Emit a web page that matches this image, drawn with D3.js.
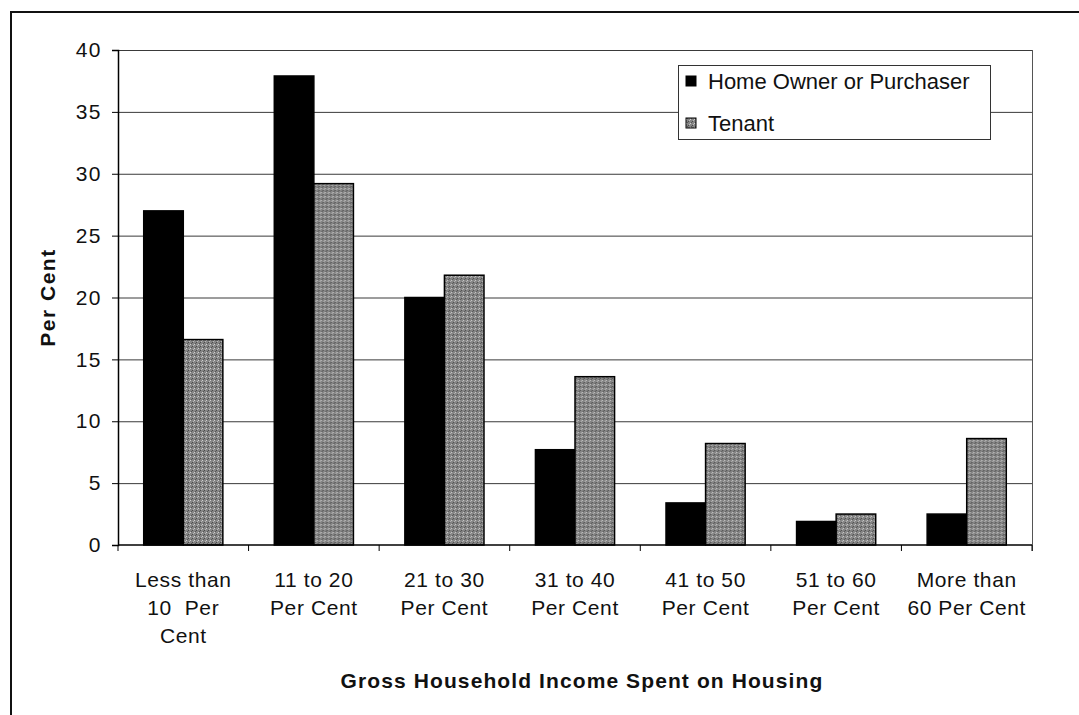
<!DOCTYPE html>
<html>
<head>
<meta charset="utf-8">
<script src="https://cdn.jsdelivr.net/npm/d3@7"></script>
<style>
  html, body { margin: 0; padding: 0; background: #fff; }
  svg { display: block; font-family: Arial, "Liberation Sans", sans-serif; }
</style>
</head>
<body>
<svg id="chart" width="1079" height="715"></svg>
<script>
const categories = [
  ["Less than", "10  Per", "Cent"],
  ["11 to 20", "Per Cent"],
  ["21 to 30", "Per Cent"],
  ["31 to 40", "Per Cent"],
  ["41 to 50", "Per Cent"],
  ["51 to 60", "Per Cent"],
  ["More than", "60 Per Cent"]
];
const seriesNames = ["Home Owner or Purchaser", "Tenant"];
const ownerValues = [27.0, 37.9, 20.0, 7.7, 3.4, 1.9, 2.5];
const tenantValues = [16.6, 29.2, 21.8, 13.6, 8.2, 2.5, 8.6];
const yTicks = [0, 5, 10, 15, 20, 25, 30, 35, 40];
const yTitle = "Per Cent";
const xTitle = "Gross Household Income Spent on Housing";

(function () {
const svg = d3.select("#chart");
const pLeft = 118, pRight = 1032, pTop = 50, pBottom = 545;
const colors = ["#000000", "#8e8e8e"];

// outer frame
svg.append("line").attr("x1", 10).attr("x2", 1079).attr("y1", 12).attr("y2", 12)
  .attr("stroke", "#111").attr("stroke-width", 2);
svg.append("line").attr("x1", 11).attr("x2", 11).attr("y1", 11).attr("y2", 715)
  .attr("stroke", "#111").attr("stroke-width", 2);

const idx = categories.map((d, i) => i);
const x0 = d3.scaleBand().domain(idx).range([pLeft, pRight]).padding(0);
const x1 = d3.scaleBand().domain([0, 1]).range([0, x0.bandwidth()]).paddingInner(0).paddingOuter(0.65);
const y = d3.scaleLinear().domain([0, 40]).range([pBottom, pTop]);

// gridlines
svg.append("g").selectAll("line").data(yTicks.filter(t => t > 0)).join("line")
  .attr("x1", pLeft).attr("x2", pRight)
  .attr("y1", d => y(d) + 0.5).attr("y2", d => y(d) + 0.5)
  .attr("stroke", "#3a3a3a").attr("stroke-width", 1);

// right border
svg.append("line").attr("x1", pRight + 0.5).attr("x2", pRight + 0.5).attr("y1", pTop).attr("y2", pBottom + 6)
  .attr("stroke", "#555").attr("stroke-width", 1);

// pattern for tenant
const defs = svg.append("defs");
const pat = defs.append("pattern").attr("id", "grain").attr("width", 4).attr("height", 4)
  .attr("patternUnits", "userSpaceOnUse");
pat.append("rect").attr("width", 4).attr("height", 4).attr("fill", "#858585");
pat.append("rect").attr("x", 0).attr("y", 0).attr("width", 1).attr("height", 1).attr("fill", "#d0d0d0");
pat.append("rect").attr("x", 2).attr("y", 2).attr("width", 1).attr("height", 1).attr("fill", "#4a4a4a");
pat.append("rect").attr("x", 3).attr("y", 1).attr("width", 1).attr("height", 1).attr("fill", "#b8b8b8");
pat.append("rect").attr("x", 1).attr("y", 3).attr("width", 1).attr("height", 1).attr("fill", "#555555");

const data = idx.map(i => [ownerValues[i], tenantValues[i]]);
const groups = svg.append("g").selectAll("g").data(data).join("g")
  .attr("transform", (d, i) => `translate(${x0(i)},0)`);
groups.selectAll("rect").data(d => d.map((v, k) => ({ v, k }))).join("rect")
  .attr("x", d => x1(d.k))
  .attr("y", d => y(d.v))
  .attr("width", x1.bandwidth())
  .attr("height", d => y(0) - y(d.v))
  .attr("fill", d => d.k === 0 ? colors[0] : "url(#grain)")
  .attr("stroke", "#000").attr("stroke-width", 1.5);

// y axis
const yAxis = d3.axisLeft(y).tickValues(yTicks).tickSize(6).tickPadding(10).tickFormat(d3.format("d"));
const gy = svg.append("g").attr("transform", `translate(${pLeft},0)`).call(yAxis);
gy.select(".domain").attr("stroke", "#000").attr("stroke-width", 1.5);
gy.selectAll(".tick line").attr("stroke", "#000");
gy.selectAll("text").attr("font-size", 21).attr("fill", "#111")
  .attr("font-family", "Arial, 'Liberation Sans', sans-serif").attr("dx", 0).style("letter-spacing", "1.5px");

// x axis (ticks at category boundaries)
const boundaries = idx.map(i => x0(i)).concat([pRight]);
const gx = svg.append("g");
gx.append("line").attr("x1", pLeft).attr("x2", pRight).attr("y1", pBottom).attr("y2", pBottom)
  .attr("stroke", "#000").attr("stroke-width", 1.5);
gx.selectAll("line.tk").data(boundaries).join("line").attr("class", "tk")
  .attr("x1", d => d).attr("x2", d => d).attr("y1", pBottom).attr("y2", pBottom + 6)
  .attr("stroke", "#000");

const labels = svg.append("g").selectAll("text").data(categories).join("text")
  .attr("x", (d, i) => x0(i) + x0.bandwidth() / 2)
  .attr("y", 587)
  .attr("text-anchor", "middle")
  .attr("font-size", 21).attr("fill", "#111").style("letter-spacing", "0.6px");
labels.selectAll("tspan").data(d => d).join("tspan")
  .attr("x", function () { return d3.select(this.parentNode).attr("x"); })
  .attr("dy", (d, j) => j === 0 ? 0 : 28)
  .style("white-space", "pre")
  .text(d => d);

// axis titles
svg.append("text").attr("transform", `translate(55,${(pTop + pBottom) / 2}) rotate(-90)`)
  .attr("text-anchor", "middle").attr("font-size", 21).attr("font-weight", "bold").attr("fill", "#111")
  .style("letter-spacing", "1.5px")
  .text(yTitle);
svg.append("text").attr("x", 582).attr("y", 688).attr("text-anchor", "middle")
  .attr("font-size", 21).attr("font-weight", "bold").attr("fill", "#111")
  .style("letter-spacing", "1.1px")
  .text(xTitle);

// legend
const lg = svg.append("g");
lg.append("rect").attr("x", 678.5).attr("y", 65.5).attr("width", 312).attr("height", 74)
  .attr("fill", "#fff").attr("stroke", "#333").attr("stroke-width", 1);
const li = lg.selectAll("g").data(seriesNames).join("g")
  .attr("transform", (d, i) => `translate(686,${81 + i * 42})`);
li.append("rect").attr("x", 0).attr("y", -5).attr("width", 10).attr("height", 10)
  .attr("fill", (d, i) => i === 0 ? colors[0] : "url(#grain)").attr("stroke", "#000");
li.append("text").attr("x", 22).attr("y", 8).attr("font-size", 22).attr("fill", "#111").text(d => d);
})();
</script>
</body>
</html>
